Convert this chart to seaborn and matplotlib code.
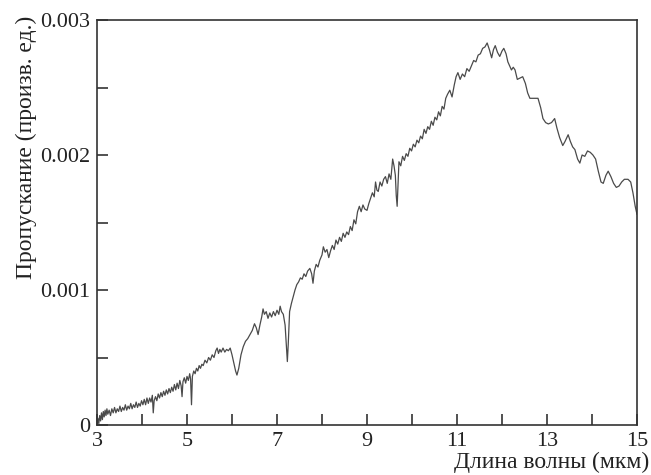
import numpy as np
import pandas as pd
import matplotlib
matplotlib.use("Agg")
import matplotlib.pyplot as plt
import seaborn as sns
from matplotlib.ticker import MultipleLocator, FixedLocator, FixedFormatter

# Spectrum: wavelength (um) and transmittance (units of 1e-3)
wavelength = [
    3.00, 3.02, 3.04, 3.06, 3.08, 3.10, 3.12, 3.14, 3.16, 3.18, 3.20, 3.22, 3.24, 3.27, 3.30,
    3.33, 3.36, 3.39, 3.42, 3.45, 3.48, 3.51, 3.54, 3.57, 3.60, 3.63, 3.66, 3.69, 3.72, 3.75,
    3.78, 3.81, 3.84, 3.87, 3.90, 3.93, 3.96, 3.99, 4.02, 4.05, 4.08, 4.11, 4.14, 4.17, 4.20,
    4.23, 4.25, 4.27, 4.30, 4.33, 4.36, 4.39, 4.42, 4.45, 4.48, 4.51, 4.54, 4.57, 4.60, 4.63,
    4.66, 4.69, 4.72, 4.75, 4.78, 4.81, 4.84, 4.87, 4.89, 4.91, 4.94, 4.97, 5.00, 5.03, 5.06,
    5.08, 5.10, 5.12, 5.15, 5.18, 5.21, 5.24, 5.27, 5.30, 5.33, 5.36, 5.40, 5.44, 5.48, 5.52,
    5.56, 5.60, 5.64, 5.67, 5.70, 5.73, 5.76, 5.80, 5.84, 5.88, 5.92, 5.96, 6.00, 6.04, 6.08,
    6.11, 6.15, 6.20, 6.25, 6.30, 6.35, 6.40, 6.45, 6.50, 6.54, 6.58, 6.62, 6.66, 6.69, 6.72,
    6.76, 6.80, 6.84, 6.88, 6.92, 6.96, 7.00, 7.04, 7.07, 7.10, 7.14, 7.18, 7.21, 7.23, 7.25,
    7.28, 7.32, 7.36, 7.40, 7.44, 7.48, 7.52, 7.56, 7.60, 7.64, 7.68, 7.73, 7.77, 7.80, 7.83,
    7.87, 7.91, 7.95, 8.00, 8.03, 8.07, 8.11, 8.15, 8.19, 8.23, 8.27, 8.31, 8.35, 8.39, 8.43,
    8.47, 8.51, 8.55, 8.59, 8.63, 8.67, 8.71, 8.75, 8.79, 8.83, 8.87, 8.91, 8.95, 9.00, 9.04,
    9.08, 9.12, 9.16, 9.19, 9.22, 9.25, 9.29, 9.33, 9.37, 9.41, 9.45, 9.49, 9.53, 9.57, 9.60,
    9.63, 9.65, 9.67, 9.69, 9.71, 9.75, 9.79, 9.83, 9.87, 9.91, 9.95, 9.99, 10.03, 10.07, 10.11,
    10.15, 10.19, 10.23, 10.27, 10.31, 10.35, 10.39, 10.43, 10.47, 10.51, 10.55, 10.59, 10.63, 10.67, 10.71,
    10.75, 10.79, 10.84, 10.89, 10.94, 10.98, 11.02, 11.07, 11.12, 11.17, 11.22, 11.27, 11.32, 11.37, 11.42,
    11.47, 11.52, 11.57, 11.62, 11.67, 11.72, 11.77, 11.81, 11.85, 11.90, 11.95, 12.00, 12.04, 12.09, 12.13,
    12.17, 12.21, 12.25, 12.29, 12.34, 12.40, 12.46, 12.52, 12.57, 12.62, 12.70, 12.80, 12.86, 12.91, 12.97,
    13.03, 13.10, 13.17, 13.22, 13.28, 13.35, 13.40, 13.47, 13.52, 13.57, 13.62, 13.68, 13.73, 13.78, 13.84,
    13.90, 13.96, 14.02, 14.08, 14.14, 14.20, 14.25, 14.31, 14.36, 14.42, 14.48, 14.54, 14.60, 14.66, 14.72,
    14.80, 14.86, 14.91, 14.96, 15.00,
]
transmittance_e3 = [
    0.00, 0.05, 0.01, 0.07, 0.03, 0.09, 0.04, 0.10, 0.06, 0.11, 0.07, 0.12, 0.08, 0.11, 0.07,
    0.12, 0.09, 0.13, 0.09, 0.12, 0.10, 0.14, 0.10, 0.13, 0.11, 0.15, 0.11, 0.14, 0.12, 0.16,
    0.12, 0.15, 0.13, 0.17, 0.13, 0.16, 0.14, 0.18, 0.15, 0.19, 0.15, 0.20, 0.16, 0.20, 0.17,
    0.22, 0.09, 0.18, 0.21, 0.18, 0.23, 0.20, 0.24, 0.21, 0.25, 0.22, 0.26, 0.23, 0.27, 0.24,
    0.28, 0.25, 0.30, 0.26, 0.31, 0.27, 0.33, 0.29, 0.21, 0.32, 0.35, 0.31, 0.36, 0.33, 0.38,
    0.34, 0.15, 0.36, 0.40, 0.38, 0.42, 0.40, 0.44, 0.42, 0.45, 0.44, 0.48, 0.46, 0.50, 0.48,
    0.52, 0.50, 0.55, 0.57, 0.53, 0.56, 0.54, 0.57, 0.54, 0.56, 0.55, 0.57, 0.52, 0.46, 0.40,
    0.37, 0.42, 0.52, 0.58, 0.62, 0.64, 0.67, 0.70, 0.75, 0.72, 0.67, 0.74, 0.80, 0.86, 0.82,
    0.84, 0.79, 0.83, 0.80, 0.84, 0.81, 0.85, 0.82, 0.88, 0.84, 0.82, 0.74, 0.58, 0.47, 0.60,
    0.84, 0.90, 0.95, 1.00, 1.04, 1.06, 1.09, 1.08, 1.12, 1.10, 1.14, 1.16, 1.12, 1.05, 1.14,
    1.19, 1.17, 1.22, 1.26, 1.32, 1.28, 1.30, 1.24, 1.29, 1.33, 1.30, 1.37, 1.34, 1.39, 1.36,
    1.42, 1.39, 1.43, 1.41, 1.47, 1.44, 1.52, 1.49, 1.58, 1.62, 1.58, 1.63, 1.60, 1.59, 1.64,
    1.68, 1.72, 1.69, 1.80, 1.74, 1.73, 1.80, 1.77, 1.82, 1.84, 1.79, 1.86, 1.82, 1.97, 1.92,
    1.85, 1.70, 1.62, 1.78, 1.95, 1.92, 1.99, 1.96, 2.01, 1.99, 2.05, 2.03, 2.08, 2.06, 2.11,
    2.09, 2.14, 2.12, 2.19, 2.16, 2.21, 2.19, 2.25, 2.22, 2.28, 2.26, 2.32, 2.29, 2.36, 2.34,
    2.42, 2.45, 2.48, 2.43, 2.52, 2.58, 2.61, 2.56, 2.60, 2.58, 2.64, 2.62, 2.66, 2.70, 2.69,
    2.74, 2.75, 2.79, 2.80, 2.83, 2.78, 2.72, 2.78, 2.81, 2.76, 2.73, 2.77, 2.79, 2.75, 2.69,
    2.66, 2.63, 2.65, 2.63, 2.56, 2.57, 2.58, 2.53, 2.46, 2.42, 2.42, 2.42, 2.35, 2.27, 2.24,
    2.23, 2.24, 2.27, 2.20, 2.13, 2.07, 2.10, 2.15, 2.10, 2.06, 2.04, 1.97, 1.94, 2.00, 1.99,
    2.03, 2.02, 2.00, 1.97, 1.88, 1.80, 1.79, 1.85, 1.88, 1.84, 1.79, 1.76, 1.77, 1.80, 1.82,
    1.82, 1.80, 1.72, 1.62, 1.56,
]

x_major = [3, 5, 7, 9, 11, 13, 15]
y_major = [0, 0.001, 0.002, 0.003]
y_labels = ["0", "0.001", "0.002", "0.003"]

df = pd.DataFrame({"wl": wavelength, "t": np.array(transmittance_e3) * 1e-3})

sns.set_style("ticks")
plt.rcParams["font.family"] = ["Liberation Serif", "DejaVu Serif"]
plt.rcParams["font.size"] = 16

fig = plt.figure(figsize=(6.51, 4.75), dpi=100)
ax = fig.add_axes([97 / 651, 1 - 425 / 475, 540 / 651, 405 / 475])

sns.lineplot(data=df, x="wl", y="t", ax=ax, color="#4a4a4a", linewidth=0.9,
             estimator=None, sort=False)

ax.set_xlim(3, 15)
ax.set_ylim(0, 0.003)
ax.xaxis.set_major_locator(FixedLocator(x_major))
ax.xaxis.set_minor_locator(MultipleLocator(1))
ax.yaxis.set_major_locator(FixedLocator(y_major))
ax.yaxis.set_major_formatter(FixedFormatter(y_labels))
ax.yaxis.set_minor_locator(MultipleLocator(0.0005))

for s in ax.spines.values():
    s.set_visible(True)
    s.set_linewidth(1.2)
    s.set_color("#333333")

ax.tick_params(which="both", direction="in", top=False, right=False,
               color="#333333", width=1.2, labelsize=16, labelcolor="#222222")
ax.tick_params(which="major", length=8, pad=5)
ax.tick_params(which="minor", length=8)
ax.set_xlabel("")
ax.set_ylabel("")

fig.text(649 / 651, 1 - 462 / 475, "Длина волны (мкм)", ha="right", va="center",
         fontsize=17, color="#222222")
fig.text(26 / 651, 1 - 147 / 475, "Пропускание (произв. ед.)", ha="center", va="center",
         rotation=90, fontsize=17, color="#222222")

fig.savefig("out.png", dpi=100)
